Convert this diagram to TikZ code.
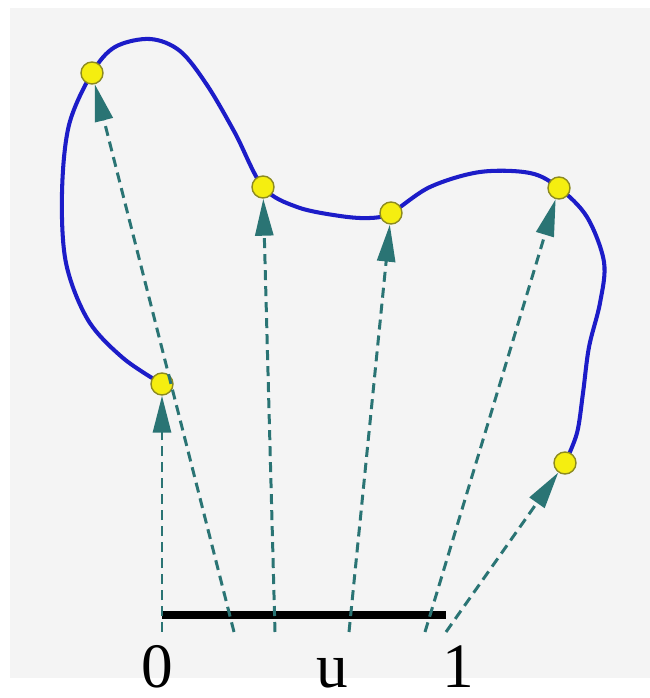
\documentclass[tikz,border=0pt]{standalone}
\usepackage{fontspec}
\setmainfont{Liberation Serif}
\usetikzlibrary{arrows.meta}
\definecolor{curveblue}{HTML}{1C1CC8}
\definecolor{mapline}{HTML}{2A7474}
\definecolor{knot}{HTML}{F5EE10}
\definecolor{knotedge}{HTML}{8C8A20}
\definecolor{paper}{HTML}{F4F4F4}

\begin{document}
\begin{tikzpicture}[every node/.style={font=\fontsize{36}{36}\selectfont},
  knotpt/.style={circle, fill=knot, draw=knotedge, line width=0.8pt, minimum size=0.44cm, inner sep=0pt},
  maparrow/.style={draw=mapline, line width=1.7pt, dash pattern=on 0.2cm off 0.12cm,
    -{Triangle[length=0.74cm,width=0.36cm]}}]
  \useasboundingbox (0,0) rectangle (13,13.96);
  \fill[paper] (0.2,0.4) rectangle (13,13.8);

  % spline through the knots
  \draw[curveblue, line width=2.3pt] plot[smooth, tension=0.55] coordinates {
    (3.24,6.28) (2.46,6.80) (1.76,7.56) (1.32,8.70) (1.24,10.10) (1.38,11.46)
    (1.84,12.50) (2.30,13.02) (3.00,13.18) (3.60,12.94) (4.14,12.26) (4.70,11.30)
    (5.26,10.22) (5.94,9.82) (6.80,9.64) (7.40,9.60) (7.82,9.70) (8.60,10.22)
    (9.60,10.52) (10.60,10.50) (11.18,10.20) (11.74,9.62) (12.08,8.72) (12.00,7.90)
    (11.78,7.02) (11.66,6.10) (11.54,5.30) (11.30,4.70)};

  % knots
  \foreach \n/\x/\y in {0/3.24/6.28, 1/1.84/12.50, 2/5.26/10.22, 3/7.82/9.70, 4/11.18/10.20, 5/11.30/4.70}{
    \node[knotpt] (p\n) at (\x,\y) {};
  }

  % parameter interval
  \coordinate (u0) at (3.24,1.66);
  \coordinate (u1) at (8.92,1.66);
  \draw[black, line width=4.5pt] (u0) -- (u1);
  \foreach \n/\x in {0/3.24, 1/4.68, 2/5.50, 3/6.98, 4/8.50, 5/8.92}{
    \coordinate (t\n) at (\x,1.32);
    \draw[maparrow] (t\n) -- (p\n);
  }

  \node[anchor=base, inner sep=0pt] (l0) at (3.14,0.22) {0};
  \node[anchor=base, inner sep=0pt] (lu) at (6.64,0.22) {u};
  \node[anchor=base, inner sep=0pt] (l1) at (9.16,0.22) {1};
\end{tikzpicture}
\end{document}
